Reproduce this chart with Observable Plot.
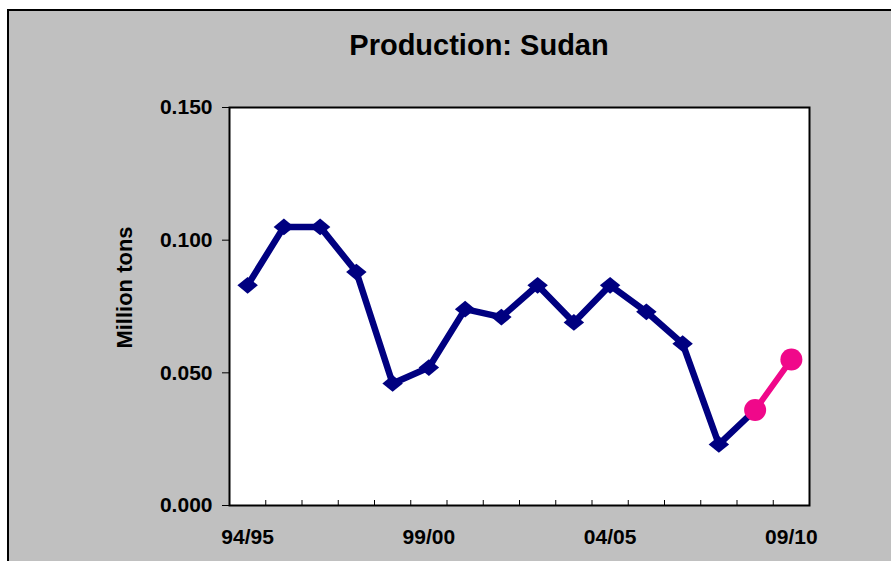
<!DOCTYPE html>
<html><head><meta charset="utf-8">
<script src="https://cdn.jsdelivr.net/npm/d3@7"></script>
<script src="https://cdn.jsdelivr.net/npm/@observablehq/plot@0.6"></script>
<style>
html,body{margin:0;padding:0;width:891px;height:561px;overflow:hidden;background:#fff;}
#bg{position:absolute;left:7px;top:9px;width:900px;height:600px;background:#c0c0c0;border:2px solid #000;}
#title{position:absolute;left:0;top:31px;width:958px;text-align:center;font:bold 29px "Liberation Sans",Arial,sans-serif;line-height:29px;color:#000;}
#chart{position:absolute;left:0;top:0;}
</style></head><body>
<div id="bg"></div>
<div id="title">Production: Sudan</div>
<div id="chart"></div>
<script>
const seasons = ["94/95","95/96","96/97","97/98","98/99","99/00","00/01","01/02","02/03","03/04","04/05","05/06","06/07","07/08","08/09","09/10"];
const production = [0.083,0.105,0.105,0.088,0.046,0.052,0.074,0.071,0.083,0.069,0.083,0.073,0.061,0.023,0.036,null];
const forecast = [null,null,null,null,null,null,null,null,null,null,null,null,null,null,0.036,0.055];
const yTicks = [0, 0.05, 0.10, 0.15];
const xLabels = ["94/95","99/00","04/05","09/10"];

const blueRows = seasons.map((s,i)=>({x:i+0.5, season:s, v:production[i]})).filter(d=>d.v!=null);
const pinkRows = seasons.map((s,i)=>({x:i+0.5, season:s, v:forecast[i]})).filter(d=>d.v!=null);
const boundaries = seasons.slice(1).map((s,i)=>i+1);
const labelPos = xLabels.map(l=>seasons.indexOf(l)+0.5);

const BLUE = "#000080", PINK = "#F0088A";
const diamond = {draw(ctx,size){const r=Math.sqrt(size/Math.PI);const w=r*1.1,h=r*0.9;ctx.moveTo(0,-h);ctx.lineTo(w,0);ctx.lineTo(0,h);ctx.lineTo(-w,0);ctx.closePath();}};

const W=891,H=561,mL=229,mR=82,mT=107,mB=56;
const plot = Plot.plot({
  width:W,height:H,marginLeft:mL,marginRight:mR,marginTop:mT,marginBottom:mB,
  style:{background:"transparent",fontFamily:'"Liberation Sans", Arial, sans-serif',fontSize:"21px",fontWeight:"bold",color:"black",overflow:"visible"},
  x:{type:"linear",domain:[0,seasons.length],axis:null},
  y:{domain:[0,0.15],axis:null},
  marks:[
    Plot.frame({fill:"white",stroke:null}),
    Plot.ruleX(boundaries,{x:d=>d,insetTop:H-mT-mB-5,stroke:"black",strokeWidth:1}),
    Plot.line(blueRows,{x:"x",y:"v",stroke:BLUE,strokeWidth:6.5,strokeLinejoin:"miter"}),
    Plot.dot(blueRows,{x:"x",y:"v",symbol:diamond,r:9.3,fill:BLUE,stroke:null}),
    Plot.line(pinkRows,{x:"x",y:"v",stroke:PINK,strokeWidth:6}),
    Plot.dot(pinkRows,{x:"x",y:"v",r:11,fill:PINK,stroke:null}),
    Plot.frame({stroke:"black",strokeWidth:2}),
    Plot.axisY({ticks:yTicks,tickFormat:d=>d.toFixed(3),tickSize:7,tickPadding:10,label:null,fontSize:21,fontWeight:"bold"}),
    Plot.axisX({ticks:labelPos,tickFormat:d=>seasons[Math.floor(d)],tickSize:0,tickPadding:24,label:null,fontSize:21,fontWeight:"bold"}),
    Plot.text(["Million tons"],{frameAnchor:"left",textAnchor:"middle",rotate:-90,dx:-105,dy:-19,fontSize:22,fontWeight:"bold"})
  ]
});
document.getElementById("chart").appendChild(plot);
</script>
</body></html>
